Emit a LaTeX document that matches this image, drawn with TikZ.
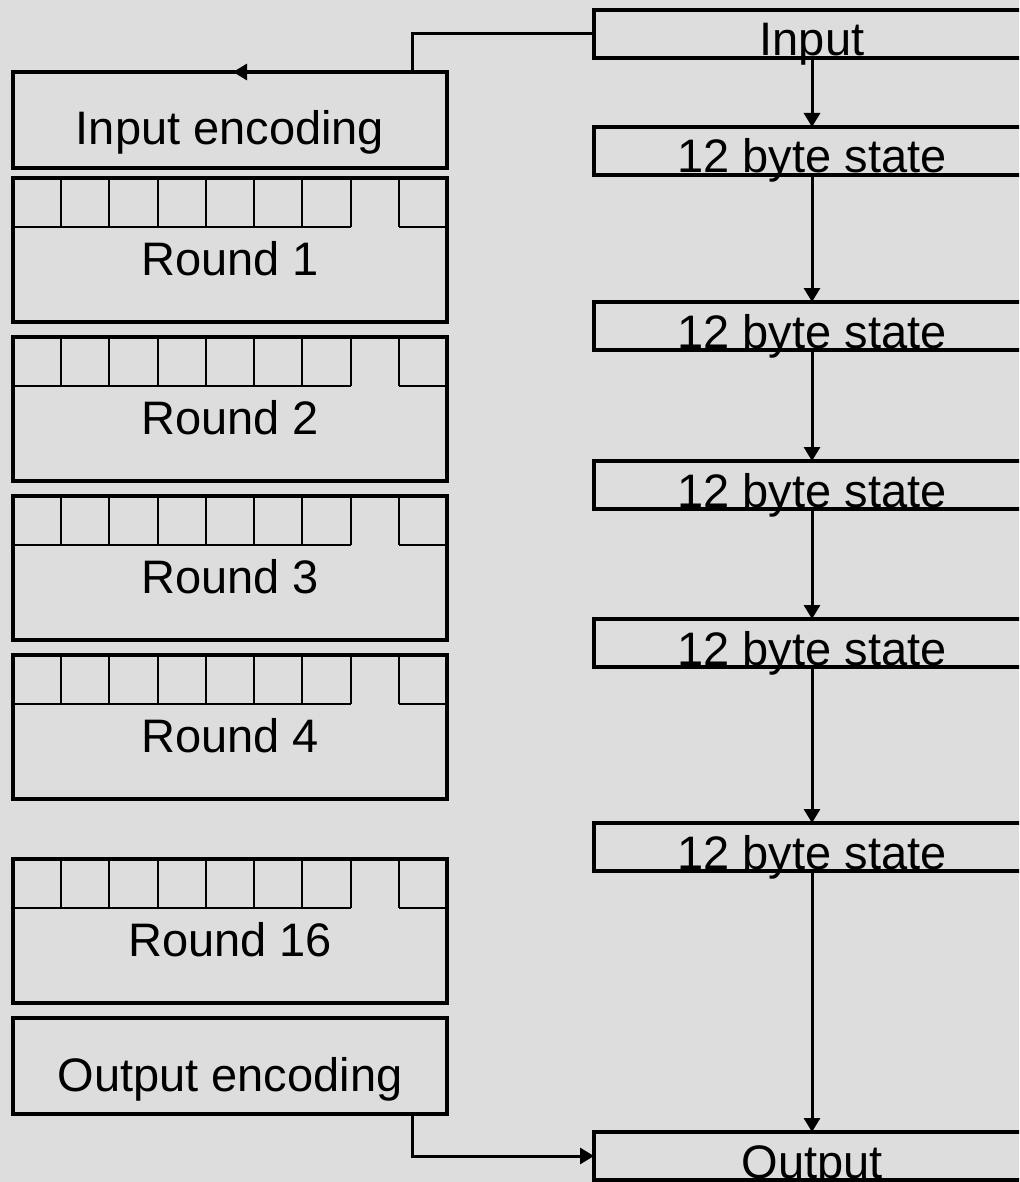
\documentclass[tikz,border=0pt]{standalone}
\usepackage{fontspec}
\setmainfont{Liberation Sans}
\usetikzlibrary{arrows.meta}

\definecolor{bggray}{RGB}{221,221,221}

\tikzset{
    box/.style={draw, line width=3.5pt, inner sep=0pt, outer sep=0pt, minimum width=434pt,
        font=\fontsize{47}{56}\selectfont},
    encbox/.style={box, text height=73pt, text depth=23pt},
    roundbox/.style={box, text height=97pt, text depth=47pt},
    statebox/.style={box, minimum width=436pt, text height=46pt, text depth=2pt},
    cell/.style={line width=2pt},
    conn/.style={line width=3pt},
    >={Triangle[width=16pt,length=14pt]}
}

\begin{document}
\begin{tikzpicture}[x=1pt,y=-1pt]
    % 背景
    \useasboundingbox (0,0) rectangle (1019,1182);
    \fill[bggray] (0,0) rectangle (1019,1182);
    \clip (0,0) rectangle (1019,1182);

    % 左列: 编码与轮
    \node[encbox] (ienc) at (230,120) {Input encoding};
    \foreach \n/\t in {1/178,2/337,3/496,4/655,16/859}{
        \node[roundbox] (r\n) at (230,\t+72) {Round \n};
        \foreach \k in {1,...,8}
            \draw[cell] (13+\k*48.22,\t) -- (13+\k*48.22,\t+49);
        \draw[cell] (13,\t+49) -- (350.6,\t+49);
        \draw[cell] (398.8,\t+49) -- (447,\t+49);
    }
    \node[encbox] (oenc) at (230,1066) {Output encoding};

    % 右列: 状态
    \node[statebox] (in) at (812,34) {Input};
    \foreach \n/\t in {1/151,2/326,3/485,4/643,5/847}
        \node[statebox] (s\n) at (812,\t) {12 byte state};
    \node[statebox] (out) at (812,1156) {Output};

    \foreach \a/\b in {in/s1,s1/s2,s2/s3,s3/s4,s4/s5,s5/out}
        \draw[conn,->] (\a) -- (\b);

    % 输入与输出连线
    \coordinate (ienctip) at (233,72);
    \draw[conn,->] (in.west) -| ([xshift=-35pt]ienc.north east) -- (ienctip);
    \draw[conn,->] ([xshift=-35pt]oenc.south east) |- (out.west);
\end{tikzpicture}
\end{document}
